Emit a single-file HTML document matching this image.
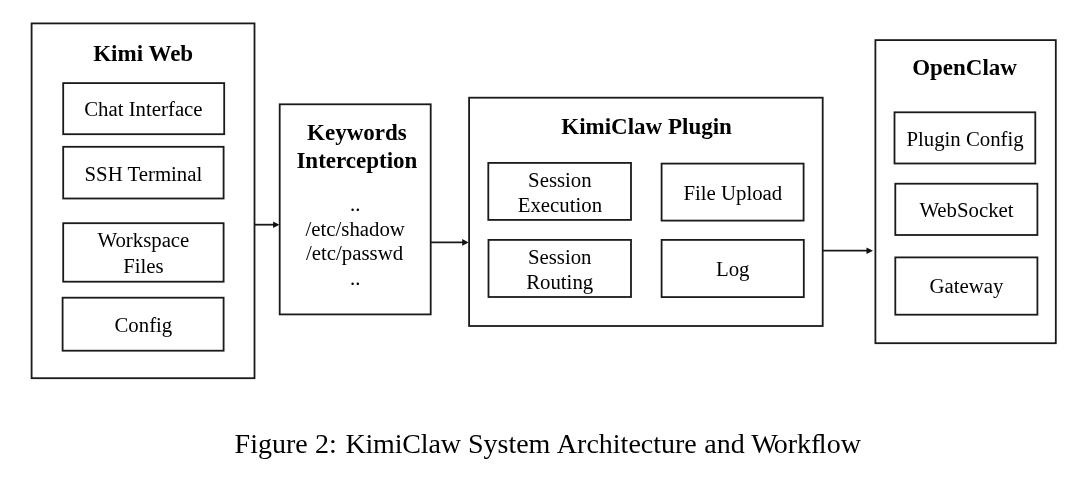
<!DOCTYPE html>
<html><head><meta charset="utf-8">
<style>
html,body{margin:0;padding:0;background:#fff;}
body{width:1080px;height:477px;overflow:hidden;font-family:"Liberation Serif",serif;}
svg{display:block;position:absolute;left:0;top:0;}
text{font-family:"Liberation Serif",serif;fill:#000;}
.b{font-weight:bold;font-size:23px;}
.n{font-size:20.8px;}
.c{font-size:28px;fill:#000;}
rect,line{fill:none;stroke:#1a1a1a;stroke-width:1.8;}
</style></head><body>
<svg width="1080" height="477" viewBox="0 0 1080 477">
<g style="filter:blur(0.35px)">
<!-- Kimi Web -->
<rect x="31.6" y="23.4" width="222.9" height="354.8"/>
<rect x="63.2" y="83.1" width="161" height="51.1"/>
<rect x="63.2" y="146.8" width="160.4" height="51.7"/>
<rect x="63.2" y="223.2" width="160.4" height="58.5"/>
<rect x="62.6" y="297.7" width="161" height="53"/>
<text class="b" x="143.2" y="61" text-anchor="middle">Kimi Web</text>
<text class="n" x="143.4" y="116.2" text-anchor="middle">Chat Interface</text>
<text class="n" x="143.4" y="180.7" text-anchor="middle">SSH Terminal</text>
<text class="n" x="143.4" y="247" text-anchor="middle">Workspace</text>
<text class="n" x="143.4" y="272.8" text-anchor="middle">Files</text>
<text class="n" x="143.4" y="332" text-anchor="middle">Config</text>
<!-- Keywords -->
<rect x="279.7" y="104.3" width="151" height="210.1"/>
<text class="b" x="356.9" y="139.6" text-anchor="middle">Keywords</text>
<text class="b" x="356.9" y="167.7" text-anchor="middle">Interception</text>
<text class="n" x="355.2" y="210.5" text-anchor="middle">..</text>
<text class="n" x="355.2" y="235.5" text-anchor="middle">/etc/shadow</text>
<text class="n" x="354.6" y="259.5" text-anchor="middle">/etc/passwd</text>
<text class="n" x="355.2" y="285.3" text-anchor="middle">..</text>
<!-- Plugin -->
<rect x="469.1" y="97.7" width="353.6" height="228.3"/>
<text class="b" x="646.6" y="133.5" text-anchor="middle">KimiClaw Plugin</text>
<rect x="488.3" y="162.9" width="142.7" height="57"/>
<rect x="661.6" y="163.6" width="142" height="57"/>
<rect x="488.5" y="239.9" width="142.5" height="57.1"/>
<rect x="661.6" y="239.9" width="142.2" height="57.2"/>
<text class="n" x="559.9" y="186.8" text-anchor="middle">Session</text>
<text class="n" x="559.9" y="211.5" text-anchor="middle">Execution</text>
<text class="n" x="732.8" y="199.7" text-anchor="middle">File Upload</text>
<text class="n" x="559.7" y="264" text-anchor="middle">Session</text>
<text class="n" x="559.7" y="289" text-anchor="middle">Routing</text>
<text class="n" x="732.7" y="276" text-anchor="middle">Log</text>
<!-- OpenClaw -->
<rect x="875.4" y="40.1" width="180.4" height="303.1"/>
<text class="b" x="964.6" y="74.8" text-anchor="middle">OpenClaw</text>
<rect x="894.5" y="112.3" width="140.8" height="51.2"/>
<rect x="895.3" y="183.7" width="142.1" height="51.3"/>
<rect x="895.3" y="257.4" width="142.1" height="57.3"/>
<text class="n" x="965.1" y="146" text-anchor="middle">Plugin Config</text>
<text class="n" x="966.5" y="217.4" text-anchor="middle">WebSocket</text>
<text class="n" x="966.5" y="293" text-anchor="middle">Gateway</text>
<!-- arrows -->
<line x1="254.6" y1="224.7" x2="274" y2="224.7"/>
<polygon points="279.4,224.7 273.1,221.4 273.1,228" fill="#111"/>
<line x1="430.5" y1="242.4" x2="463" y2="242.4"/>
<polygon points="468.6,242.4 462.2,239.1 462.2,245.7" fill="#111"/>
<line x1="822.7" y1="250.7" x2="867" y2="250.7"/>
<polygon points="873,250.7 866.5,247.5 866.5,253.9" fill="#111"/>
</g>
<g style="opacity:0.999"><text class="c" x="234.6" y="452.8" style="word-spacing:0.4px">Figure 2:<tspan dx="1.35" style="letter-spacing:-0.17px"> KimiClaw</tspan><tspan dx="-0.25"> System</tspan><tspan dx="0.6"> Architecture</tspan><tspan dx="0.1"> and</tspan><tspan dx="-0.3"> W</tspan><tspan dx="-1.7">orkﬂow</tspan></text></g>
</svg>
</body></html>
